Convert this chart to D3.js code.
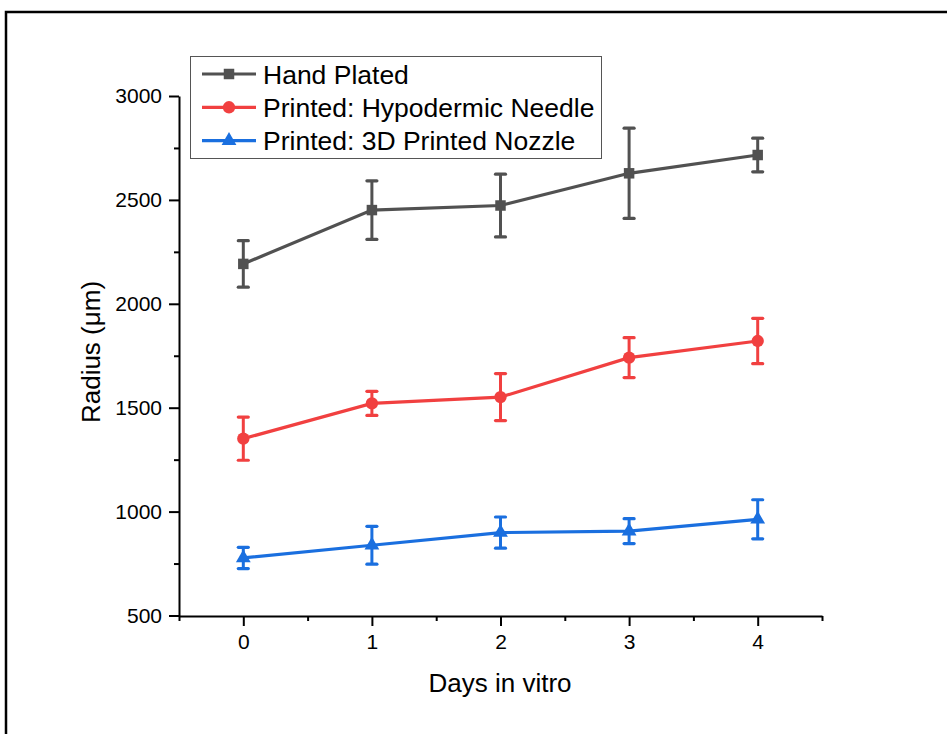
<!DOCTYPE html>
<html>
<head>
<meta charset="utf-8">
<script src="https://cdn.jsdelivr.net/npm/d3@7"></script>
<style>
  body { margin: 0; background: #fff; }
  svg { display: block; font-family: "Liberation Sans", Arial, sans-serif; }
</style>
</head>
<body>
<svg width="947" height="734"></svg>
<script>
// chart values
const days = [0, 1, 2, 3, 4]
const seriesNames = ["Hand Plated", "Printed: Hypodermic Needle", "Printed: 3D Printed Nozzle"]
const handPlated = [2192, 2451, 2473, 2628, 2716]
const handPlatedErr = [112, 141, 151, 217, 81]
const needle = [1351, 1521, 1551, 1741, 1821]
const needleErr = [104, 58, 113, 96, 109]
const nozzle = [777, 838, 899, 906, 963]
const nozzleErr = [51, 91, 75, 60, 94]
const yMajorTicks = [500, 1000, 1500, 2000, 2500, 3000]
const yMinorTicks = [750, 1250, 1750, 2250, 2750]
const xMinorTicks = [-0.5, 0.5, 1.5, 2.5, 3.5, 4.5]

const colors = ["#515151", "#F14040", "#1A6FDF"]
const symbols = [d3.symbolSquare, d3.symbolCircle, d3.symbolTriangle]
const symbolSizes = [110, 120, 95]

const series = [
  {name: seriesNames[0], values: handPlated, err: handPlatedErr},
  {name: seriesNames[1], values: needle, err: needleErr},
  {name: seriesNames[2], values: nozzle, err: nozzleErr},
]

let svg = d3.select("svg")

// outer frame (runs off right and bottom)
svg.append("rect")
  .attr("x", 6).attr("y", 12)
  .attr("width", 1200).attr("height", 1200)
  .attr("fill", "none")
  .attr("stroke", "black")
  .attr("stroke-width", 2.5)

const x = d3.scaleLinear().domain([-0.5, 4.5]).range([179, 822])
const y = d3.scaleLinear().domain([500, 3000]).range([615.5, 96])

// y axis
let yMinor = svg.append("g")
  .attr("transform", "translate(179,0)")
  .call(d3.axisLeft(y).tickValues(yMinorTicks).tickSize(5).tickFormat(""))
let yMajor = svg.append("g")
  .attr("transform", "translate(179,0)")
  .call(d3.axisLeft(y).tickValues(yMajorTicks).tickSize(10).tickSizeOuter(0).tickPadding(7).tickFormat(d3.format("d")))

// x axis
let xMinor = svg.append("g")
  .attr("transform", "translate(0,616)")
  .call(d3.axisBottom(x).tickValues(xMinorTicks).tickSize(5).tickFormat(""))
let xMajor = svg.append("g")
  .attr("transform", "translate(0,616)")
  .call(d3.axisBottom(x).tickValues(days).tickSize(10).tickSizeOuter(0).tickPadding(8).tickFormat(d3.format("d")))

svg.selectAll(".domain, .tick line")
  .attr("stroke", "black")
  .attr("stroke-width", 2)
yMinor.select(".domain").remove()
xMinor.select(".domain").remove()
svg.selectAll(".tick text")
  .attr("font-size", "21px")
  .attr("font-family", "Liberation Sans, Arial, sans-serif")
  .attr("fill", "black")

// axis titles
svg.append("text")
  .attr("x", 500)
  .attr("y", 692)
  .attr("text-anchor", "middle")
  .attr("font-size", "26px")
  .text("Days in vitro")

svg.append("text")
  .attr("transform", "translate(100,352) rotate(-90)")
  .attr("text-anchor", "middle")
  .attr("font-size", "26px")
  .text("Radius (μm)")

// lines, error bars, markers
const line = d3.line().x((d, i) => x(days[i])).y(d => y(d))

series.forEach((s, k) => {
  let g = svg.append("g")

  g.append("path")
    .datum(s.values)
    .attr("d", line)
    .attr("fill", "none")
    .attr("stroke", colors[k])
    .attr("stroke-width", 3.2)

  s.values.forEach((v, i) => {
    let cx = x(days[i])
    g.append("line")
      .attr("x1", cx).attr("x2", cx)
      .attr("y1", y(v - s.err[i])).attr("y2", y(v + s.err[i]))
      .attr("stroke", colors[k])
      .attr("stroke-width", 3)
    ;[v - s.err[i], v + s.err[i]].forEach(e => {
      g.append("line")
        .attr("x1", cx - 5).attr("x2", cx + 5)
        .attr("y1", y(e)).attr("y2", y(e))
        .attr("stroke", colors[k])
        .attr("stroke-width", 3.2)
        .attr("stroke-linecap", "round")
    })
    g.append("path")
      .attr("d", d3.symbol().type(symbols[k]).size(symbolSizes[k])())
      .attr("transform", `translate(${cx},${y(v)})`)
      .attr("fill", colors[k])
  })
})

// legend
let legend = svg.append("g")
legend.append("rect")
  .attr("x", 190.5).attr("y", 56.5)
  .attr("width", 411).attr("height", 102)
  .attr("fill", "white")
  .attr("stroke", "#555")
  .attr("stroke-width", 1)

series.forEach((s, k) => {
  let ly = 74 + k * 33.3
  legend.append("line")
    .attr("x1", 202).attr("x2", 256)
    .attr("y1", ly).attr("y2", ly)
    .attr("stroke", colors[k])
    .attr("stroke-width", 3.2)
  legend.append("path")
    .attr("d", d3.symbol().type(symbols[k]).size(symbolSizes[k])())
    .attr("transform", `translate(229,${ly})`)
    .attr("fill", colors[k])
  legend.append("text")
    .attr("x", 263)
    .attr("y", ly)
    .attr("dy", "0.36em")
    .attr("font-size", "26.5px")
    .attr("fill", "black")
    .text(s.name)
})
</script>
</body>
</html>
